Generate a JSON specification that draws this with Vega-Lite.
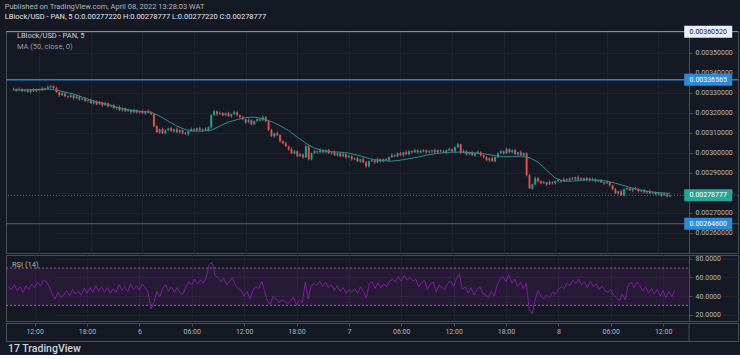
{
  "$schema": "https://vega.github.io/schema/vega-lite/v6.json",
  "background": "#151924",
  "padding": {"left": 4, "top": 3, "right": 0, "bottom": 0},
  "spacing": 0,
  "title": {
    "text": "Published on TradingView.com, April 08, 2022 13:28:03 WAT",
    "subtitle": "LBlock/USD - PAN, 5  O:0.00277220 H:0.00278777 L:0.00277220 C:0.00278777",
    "anchor": "start",
    "font": "Roboto",
    "subtitleFont": "Roboto",
    "fontSize": 7.5,
    "subtitleFontSize": 7.5,
    "fontWeight": "normal",
    "subtitleFontWeight": "normal",
    "color": "#b2b5be",
    "subtitleColor": "#e0e3eb",
    "subtitlePadding": 2,
    "offset": 5
  },
  "resolve": {"scale": {"x": "independent", "y": "independent"}},
  "datasets": {
    "levels": [
      {"p": 0.0036052, "kind": "w"},
      {"p": 0.00336565, "kind": "b"},
      {"p": 0.00278777, "kind": "g"},
      {"p": 0.002646, "kind": "b"}
    ],
    "ma": [
      {"t":540,"m":0.0033135},{"t":600,"m":0.0033135},{"t":660,"m":0.003316},{"t":720,"m":0.003316},
      {"t":780,"m":0.0033185},{"t":840,"m":0.0033135},{"t":900,"m":0.0033035},{"t":960,"m":0.0032935},
      {"t":1020,"m":0.0032785},{"t":1080,"m":0.0032635},{"t":1140,"m":0.003251},{"t":1200,"m":0.003241},
      {"t":1260,"m":0.0032285},{"t":1320,"m":0.0032185},{"t":1380,"m":0.003211},{"t":1440,"m":0.003206},
      {"t":1500,"m":0.0032035},{"t":1560,"m":0.0031835},{"t":1620,"m":0.0031585},{"t":1680,"m":0.0031335},
      {"t":1740,"m":0.003116},{"t":1800,"m":0.0031085},{"t":1860,"m":0.0031085},{"t":1920,"m":0.0031135},
      {"t":1980,"m":0.0031335},{"t":2040,"m":0.0031535},{"t":2100,"m":0.003166},{"t":2160,"m":0.003176},
      {"t":2220,"m":0.0031785},{"t":2280,"m":0.003171},{"t":2340,"m":0.003156},{"t":2400,"m":0.003136},
      {"t":2460,"m":0.003111},{"t":2520,"m":0.0030785},{"t":2580,"m":0.0030485},{"t":2640,"m":0.0030235},
      {"t":2700,"m":0.003011},{"t":2760,"m":0.003006},{"t":2820,"m":0.0030035},{"t":2880,"m":0.0029985},
      {"t":2940,"m":0.0029885},{"t":3000,"m":0.002976},{"t":3060,"m":0.002966},{"t":3120,"m":0.002961},
      {"t":3180,"m":0.0029585},{"t":3240,"m":0.0029635},{"t":3300,"m":0.002971},{"t":3360,"m":0.0029785},
      {"t":3420,"m":0.0029885},{"t":3480,"m":0.002996},{"t":3540,"m":0.003001},{"t":3600,"m":0.0030035},
      {"t":3660,"m":0.0030035},{"t":3720,"m":0.003001},{"t":3780,"m":0.0029985},{"t":3840,"m":0.0029935},
      {"t":3900,"m":0.002986},{"t":3960,"m":0.002981},{"t":4020,"m":0.002981},{"t":4080,"m":0.0029835},
      {"t":4140,"m":0.002976},{"t":4200,"m":0.0029535},{"t":4260,"m":0.0029135},{"t":4320,"m":0.0028735},
      {"t":4380,"m":0.0028585},{"t":4440,"m":0.0028585},{"t":4500,"m":0.0028635},{"t":4560,"m":0.002866},
      {"t":4620,"m":0.0028635},{"t":4680,"m":0.0028585},{"t":4740,"m":0.0028485},{"t":4800,"m":0.002836},
      {"t":4860,"m":0.0028235},{"t":4920,"m":0.0028135},{"t":4980,"m":0.002806},{"t":5040,"m":0.002801},
      {"t":5100,"m":0.0027985},{"t":5120,"m":0.0027975}
    ],
    "candles": [
      {"t":540,"o":0.003315,"h":0.0033255,"l":0.003312,"c":0.0033185,"r":50},
      {"t":560,"o":0.0033185,"h":0.0033215,"l":0.0033055,"c":0.0033135,"r":47},
      {"t":580,"o":0.0033135,"h":0.003327,"l":0.0033095,"c":0.003318,"r":52},
      {"t":600,"o":0.003318,"h":0.003323,"l":0.003303,"c":0.003309,"r":46},
      {"t":620,"o":0.003309,"h":0.003317,"l":0.003304,"c":0.003313,"r":50},
      {"t":640,"o":0.003313,"h":0.00332,"l":0.003301,"c":0.003304,"r":44},
      {"t":660,"o":0.003304,"h":0.003317,"l":0.003296,"c":0.003314,"r":51},
      {"t":680,"o":0.003314,"h":0.003323,"l":0.003304,"c":0.003308,"r":47},
      {"t":700,"o":0.003308,"h":0.003322,"l":0.003302,"c":0.003317,"r":53},
      {"t":720,"o":0.003317,"h":0.003321,"l":0.003307,"c":0.003312,"r":49},
      {"t":740,"o":0.003312,"h":0.00333,"l":0.003309,"c":0.003323,"r":55},
      {"t":760,"o":0.003323,"h":0.003326,"l":0.003311,"c":0.003319,"r":51},
      {"t":780,"o":0.003319,"h":0.003337,"l":0.003315,"c":0.003328,"r":57},
      {"t":800,"o":0.003328,"h":0.003338,"l":0.003322,"c":0.003333,"r":55},
      {"t":820,"o":0.003333,"h":0.003337,"l":0.003319,"c":0.003324,"r":50},
      {"t":840,"o":0.003324,"h":0.003331,"l":0.0033,"c":0.003303,"r":42},
      {"t":860,"o":0.003303,"h":0.003306,"l":0.00328,"c":0.003288,"r":37},
      {"t":880,"o":0.003288,"h":0.003306,"l":0.003284,"c":0.003297,"r":44},
      {"t":900,"o":0.003297,"h":0.003302,"l":0.003277,"c":0.003283,"r":39},
      {"t":920,"o":0.003283,"h":0.003287,"l":0.003273,"c":0.003278,"r":41},
      {"t":940,"o":0.003278,"h":0.003294,"l":0.003275,"c":0.003287,"r":46},
      {"t":960,"o":0.003287,"h":0.00329,"l":0.003265,"c":0.003273,"r":40},
      {"t":980,"o":0.003273,"h":0.00329,"l":0.003269,"c":0.003281,"r":47},
      {"t":1000,"o":0.003281,"h":0.003286,"l":0.003261,"c":0.003267,"r":42},
      {"t":1020,"o":0.003267,"h":0.003276,"l":0.003262,"c":0.003272,"r":45},
      {"t":1040,"o":0.003272,"h":0.003279,"l":0.003255,"c":0.003258,"r":41},
      {"t":1060,"o":0.003258,"h":0.003266,"l":0.00325,"c":0.003263,"r":48},
      {"t":1080,"o":0.003263,"h":0.003272,"l":0.003244,"c":0.003248,"r":43},
      {"t":1100,"o":0.003248,"h":0.003262,"l":0.003242,"c":0.003257,"r":49},
      {"t":1120,"o":0.003257,"h":0.003261,"l":0.003238,"c":0.003243,"r":44},
      {"t":1140,"o":0.003243,"h":0.00326,"l":0.00324,"c":0.003253,"r":51},
      {"t":1160,"o":0.003253,"h":0.003256,"l":0.00323,"c":0.003238,"r":45},
      {"t":1180,"o":0.003238,"h":0.003256,"l":0.003234,"c":0.003247,"r":50},
      {"t":1200,"o":0.003247,"h":0.003252,"l":0.003227,"c":0.003233,"r":44},
      {"t":1220,"o":0.003233,"h":0.003242,"l":0.003228,"c":0.003238,"r":49},
      {"t":1240,"o":0.003238,"h":0.003245,"l":0.00322,"c":0.003223,"r":43},
      {"t":1260,"o":0.003223,"h":0.003231,"l":0.003215,"c":0.003228,"r":48},
      {"t":1280,"o":0.003228,"h":0.003237,"l":0.003209,"c":0.003213,"r":44},
      {"t":1300,"o":0.003213,"h":0.003227,"l":0.003207,"c":0.003222,"r":52},
      {"t":1320,"o":0.003222,"h":0.003226,"l":0.003203,"c":0.003208,"r":46},
      {"t":1340,"o":0.003208,"h":0.00322,"l":0.003205,"c":0.003213,"r":50},
      {"t":1360,"o":0.003213,"h":0.003216,"l":0.003195,"c":0.003203,"r":45},
      {"t":1380,"o":0.003203,"h":0.003221,"l":0.003199,"c":0.003212,"r":53},
      {"t":1400,"o":0.003212,"h":0.003217,"l":0.003196,"c":0.003202,"r":47},
      {"t":1420,"o":0.003202,"h":0.003212,"l":0.003197,"c":0.003208,"r":51},
      {"t":1440,"o":0.003208,"h":0.003215,"l":0.003195,"c":0.003198,"r":46},
      {"t":1460,"o":0.003198,"h":0.00321,"l":0.00319,"c":0.003207,"r":53},
      {"t":1480,"o":0.003207,"h":0.003216,"l":0.003198,"c":0.003202,"r":49},
      {"t":1500,"o":0.003202,"h":0.003207,"l":0.003187,"c":0.003193,"r":44},
      {"t":1520,"o":0.003193,"h":0.003197,"l":0.003128,"c":0.003133,"r":26},
      {"t":1540,"o":0.003133,"h":0.00314,"l":0.0031,"c":0.003103,"r":33},
      {"t":1560,"o":0.003103,"h":0.003121,"l":0.003095,"c":0.003118,"r":45},
      {"t":1580,"o":0.003118,"h":0.003127,"l":0.003094,"c":0.003098,"r":39},
      {"t":1600,"o":0.003098,"h":0.003118,"l":0.003092,"c":0.003113,"r":48},
      {"t":1620,"o":0.003113,"h":0.003127,"l":0.003108,"c":0.003123,"r":52},
      {"t":1640,"o":0.003123,"h":0.00313,"l":0.003105,"c":0.003108,"r":45},
      {"t":1660,"o":0.003108,"h":0.003121,"l":0.0031,"c":0.003118,"r":50},
      {"t":1680,"o":0.003118,"h":0.003127,"l":0.003099,"c":0.003103,"r":44},
      {"t":1700,"o":0.003103,"h":0.003118,"l":0.003097,"c":0.003113,"r":49},
      {"t":1720,"o":0.003113,"h":0.003117,"l":0.003093,"c":0.003098,"r":43},
      {"t":1740,"o":0.003098,"h":0.003105,"l":0.00309,"c":0.003093,"r":42},
      {"t":1760,"o":0.003093,"h":0.003111,"l":0.003085,"c":0.003108,"r":50},
      {"t":1780,"o":0.003108,"h":0.003127,"l":0.003104,"c":0.003118,"r":55},
      {"t":1800,"o":0.003118,"h":0.003123,"l":0.003107,"c":0.003113,"r":52},
      {"t":1820,"o":0.003113,"h":0.003127,"l":0.003108,"c":0.003123,"r":58},
      {"t":1840,"o":0.003123,"h":0.00313,"l":0.00311,"c":0.003113,"r":53},
      {"t":1860,"o":0.003113,"h":0.003121,"l":0.003105,"c":0.003118,"r":57},
      {"t":1880,"o":0.003118,"h":0.003127,"l":0.003109,"c":0.003113,"r":54},
      {"t":1900,"o":0.003113,"h":0.003133,"l":0.003107,"c":0.003128,"r":60},
      {"t":1920,"o":0.003128,"h":0.003192,"l":0.003123,"c":0.003188,"r":74},
      {"t":1940,"o":0.003188,"h":0.003215,"l":0.003185,"c":0.003208,"r":76},
      {"t":1960,"o":0.003208,"h":0.003211,"l":0.003185,"c":0.003193,"r":62},
      {"t":1980,"o":0.003193,"h":0.003207,"l":0.003189,"c":0.003198,"r":60},
      {"t":2000,"o":0.003198,"h":0.003203,"l":0.003182,"c":0.003188,"r":55},
      {"t":2020,"o":0.003188,"h":0.003202,"l":0.003183,"c":0.003198,"r":59},
      {"t":2040,"o":0.003198,"h":0.003205,"l":0.00318,"c":0.003183,"r":52},
      {"t":2060,"o":0.003183,"h":0.003196,"l":0.003175,"c":0.003193,"r":56},
      {"t":2080,"o":0.003193,"h":0.003212,"l":0.003189,"c":0.003203,"r":60},
      {"t":2100,"o":0.003203,"h":0.003208,"l":0.003182,"c":0.003188,"r":51},
      {"t":2120,"o":0.003188,"h":0.003192,"l":0.003173,"c":0.003178,"r":48},
      {"t":2140,"o":0.003178,"h":0.003185,"l":0.003165,"c":0.003168,"r":46},
      {"t":2160,"o":0.003168,"h":0.003171,"l":0.003145,"c":0.003153,"r":40},
      {"t":2180,"o":0.003153,"h":0.003172,"l":0.003149,"c":0.003163,"r":45},
      {"t":2200,"o":0.003163,"h":0.003168,"l":0.003137,"c":0.003143,"r":37},
      {"t":2220,"o":0.003143,"h":0.003162,"l":0.003138,"c":0.003158,"r":46},
      {"t":2240,"o":0.003158,"h":0.003175,"l":0.003155,"c":0.003168,"r":50},
      {"t":2260,"o":0.003168,"h":0.003171,"l":0.003155,"c":0.003163,"r":48},
      {"t":2280,"o":0.003163,"h":0.003187,"l":0.003159,"c":0.003178,"r":56},
      {"t":2300,"o":0.003178,"h":0.003183,"l":0.003152,"c":0.003158,"r":46},
      {"t":2320,"o":0.003158,"h":0.003162,"l":0.003108,"c":0.003113,"r":35},
      {"t":2340,"o":0.003113,"h":0.00312,"l":0.00308,"c":0.003083,"r":31},
      {"t":2360,"o":0.003083,"h":0.003101,"l":0.003075,"c":0.003098,"r":40},
      {"t":2380,"o":0.003098,"h":0.003107,"l":0.003084,"c":0.003088,"r":37},
      {"t":2400,"o":0.003088,"h":0.003093,"l":0.003052,"c":0.003058,"r":33},
      {"t":2420,"o":0.003058,"h":0.003062,"l":0.003043,"c":0.003048,"r":36},
      {"t":2440,"o":0.003048,"h":0.003055,"l":0.00303,"c":0.003033,"r":34},
      {"t":2460,"o":0.003033,"h":0.003036,"l":0.00301,"c":0.003018,"r":32},
      {"t":2480,"o":0.003018,"h":0.003027,"l":0.002994,"c":0.002998,"r":35},
      {"t":2500,"o":0.002998,"h":0.003013,"l":0.002992,"c":0.003008,"r":39},
      {"t":2520,"o":0.003008,"h":0.003012,"l":0.002978,"c":0.002983,"r":30},
      {"t":2540,"o":0.002983,"h":0.003,"l":0.00298,"c":0.002993,"r":36},
      {"t":2560,"o":0.002993,"h":0.002996,"l":0.00297,"c":0.002978,"r":33},
      {"t":2580,"o":0.002978,"h":0.003042,"l":0.002974,"c":0.003033,"r":55},
      {"t":2600,"o":0.003033,"h":0.003038,"l":0.002962,"c":0.002968,"r":37},
      {"t":2620,"o":0.002968,"h":0.003002,"l":0.002963,"c":0.002998,"r":50},
      {"t":2640,"o":0.002998,"h":0.003015,"l":0.002995,"c":0.003008,"r":54},
      {"t":2660,"o":0.003008,"h":0.003011,"l":0.002995,"c":0.003003,"r":51},
      {"t":2680,"o":0.003003,"h":0.003022,"l":0.002999,"c":0.003013,"r":56},
      {"t":2700,"o":0.003013,"h":0.003018,"l":0.002997,"c":0.003003,"r":50},
      {"t":2720,"o":0.003003,"h":0.003017,"l":0.002998,"c":0.003013,"r":55},
      {"t":2740,"o":0.003013,"h":0.00302,"l":0.002995,"c":0.002998,"r":49},
      {"t":2760,"o":0.002998,"h":0.003006,"l":0.00299,"c":0.003003,"r":52},
      {"t":2780,"o":0.003003,"h":0.003012,"l":0.002984,"c":0.002988,"r":46},
      {"t":2800,"o":0.002988,"h":0.003003,"l":0.002982,"c":0.002998,"r":51},
      {"t":2820,"o":0.002998,"h":0.003002,"l":0.002978,"c":0.002983,"r":45},
      {"t":2840,"o":0.002983,"h":0.003,"l":0.00298,"c":0.002993,"r":49},
      {"t":2860,"o":0.002993,"h":0.002996,"l":0.00297,"c":0.002978,"r":43},
      {"t":2880,"o":0.002978,"h":0.002992,"l":0.002974,"c":0.002983,"r":47},
      {"t":2900,"o":0.002983,"h":0.002988,"l":0.002962,"c":0.002968,"r":44},
      {"t":2920,"o":0.002968,"h":0.002977,"l":0.002963,"c":0.002973,"r":48},
      {"t":2940,"o":0.002973,"h":0.00298,"l":0.002955,"c":0.002958,"r":43},
      {"t":2960,"o":0.002958,"h":0.002971,"l":0.00295,"c":0.002968,"r":50},
      {"t":2980,"o":0.002968,"h":0.002977,"l":0.002949,"c":0.002953,"r":45},
      {"t":3000,"o":0.002953,"h":0.002958,"l":0.002927,"c":0.002933,"r":38},
      {"t":3020,"o":0.002933,"h":0.002962,"l":0.002928,"c":0.002958,"r":53},
      {"t":3040,"o":0.002958,"h":0.00297,"l":0.002955,"c":0.002963,"r":55},
      {"t":3060,"o":0.002963,"h":0.002966,"l":0.002945,"c":0.002953,"r":48},
      {"t":3080,"o":0.002953,"h":0.002977,"l":0.002949,"c":0.002968,"r":54},
      {"t":3100,"o":0.002968,"h":0.002973,"l":0.002952,"c":0.002958,"r":49},
      {"t":3120,"o":0.002958,"h":0.002972,"l":0.002953,"c":0.002968,"r":53},
      {"t":3140,"o":0.002968,"h":0.002975,"l":0.00296,"c":0.002963,"r":50},
      {"t":3160,"o":0.002963,"h":0.002981,"l":0.002955,"c":0.002978,"r":56},
      {"t":3180,"o":0.002978,"h":0.002997,"l":0.002974,"c":0.002988,"r":58},
      {"t":3200,"o":0.002988,"h":0.002993,"l":0.002977,"c":0.002983,"r":55},
      {"t":3220,"o":0.002983,"h":0.003002,"l":0.002978,"c":0.002998,"r":61},
      {"t":3240,"o":0.002998,"h":0.003005,"l":0.002985,"c":0.002988,"r":56},
      {"t":3260,"o":0.002988,"h":0.003006,"l":0.00298,"c":0.003003,"r":62},
      {"t":3280,"o":0.003003,"h":0.003012,"l":0.002989,"c":0.002993,"r":57},
      {"t":3300,"o":0.002993,"h":0.003013,"l":0.002987,"c":0.003008,"r":60},
      {"t":3320,"o":0.003008,"h":0.003012,"l":0.002998,"c":0.003003,"r":56},
      {"t":3340,"o":0.003003,"h":0.00302,"l":0.003,"c":0.003013,"r":58},
      {"t":3360,"o":0.003013,"h":0.003016,"l":0.002995,"c":0.003003,"r":50},
      {"t":3380,"o":0.003003,"h":0.003017,"l":0.002999,"c":0.003008,"r":54},
      {"t":3400,"o":0.003008,"h":0.003018,"l":0.003002,"c":0.003013,"r":57},
      {"t":3420,"o":0.003013,"h":0.003017,"l":0.002998,"c":0.003003,"r":47},
      {"t":3440,"o":0.003003,"h":0.003015,"l":0.003,"c":0.003008,"r":53},
      {"t":3460,"o":0.003008,"h":0.003016,"l":0.003,"c":0.003013,"r":55},
      {"t":3480,"o":0.003013,"h":0.003022,"l":0.002999,"c":0.003003,"r":44},
      {"t":3500,"o":0.003003,"h":0.003018,"l":0.002997,"c":0.003013,"r":52},
      {"t":3520,"o":0.003013,"h":0.003017,"l":0.003003,"c":0.003008,"r":49},
      {"t":3540,"o":0.003008,"h":0.003015,"l":0.003,"c":0.003003,"r":47},
      {"t":3560,"o":0.003003,"h":0.003016,"l":0.002995,"c":0.003013,"r":54},
      {"t":3580,"o":0.003013,"h":0.003027,"l":0.003009,"c":0.003018,"r":56},
      {"t":3600,"o":0.003018,"h":0.003023,"l":0.003002,"c":0.003008,"r":50},
      {"t":3620,"o":0.003008,"h":0.003032,"l":0.003003,"c":0.003028,"r":59},
      {"t":3640,"o":0.003028,"h":0.00305,"l":0.003025,"c":0.003043,"r":64},
      {"t":3660,"o":0.003043,"h":0.003046,"l":0.002995,"c":0.003003,"r":47},
      {"t":3680,"o":0.003003,"h":0.003017,"l":0.002999,"c":0.003008,"r":50},
      {"t":3700,"o":0.003008,"h":0.003013,"l":0.002987,"c":0.002993,"r":43},
      {"t":3720,"o":0.002993,"h":0.003007,"l":0.002988,"c":0.003003,"r":49},
      {"t":3740,"o":0.003003,"h":0.00301,"l":0.002985,"c":0.002988,"r":41},
      {"t":3760,"o":0.002988,"h":0.003001,"l":0.00298,"c":0.002998,"r":47},
      {"t":3780,"o":0.002998,"h":0.003012,"l":0.002994,"c":0.003003,"r":50},
      {"t":3800,"o":0.003003,"h":0.003008,"l":0.002982,"c":0.002988,"r":43},
      {"t":3820,"o":0.002988,"h":0.002992,"l":0.002973,"c":0.002978,"r":41},
      {"t":3840,"o":0.002978,"h":0.002985,"l":0.00296,"c":0.002963,"r":38},
      {"t":3860,"o":0.002963,"h":0.002976,"l":0.002955,"c":0.002973,"r":45},
      {"t":3880,"o":0.002973,"h":0.002982,"l":0.002954,"c":0.002958,"r":40},
      {"t":3900,"o":0.002958,"h":0.002983,"l":0.002952,"c":0.002978,"r":52},
      {"t":3920,"o":0.002978,"h":0.003002,"l":0.002973,"c":0.002998,"r":58},
      {"t":3940,"o":0.002998,"h":0.003015,"l":0.002995,"c":0.003008,"r":61},
      {"t":3960,"o":0.003008,"h":0.003011,"l":0.00299,"c":0.002998,"r":55},
      {"t":3980,"o":0.002998,"h":0.003027,"l":0.002994,"c":0.003018,"r":63},
      {"t":4000,"o":0.003018,"h":0.003023,"l":0.002997,"c":0.003003,"r":54},
      {"t":4020,"o":0.003003,"h":0.003017,"l":0.002998,"c":0.003013,"r":58},
      {"t":4040,"o":0.003013,"h":0.00302,"l":0.00299,"c":0.002993,"r":50},
      {"t":4060,"o":0.002993,"h":0.003006,"l":0.002985,"c":0.003003,"r":55},
      {"t":4080,"o":0.003003,"h":0.003012,"l":0.002984,"c":0.002988,"r":48},
      {"t":4100,"o":0.002988,"h":0.003003,"l":0.002982,"c":0.002998,"r":54},
      {"t":4120,"o":0.002998,"h":0.003002,"l":0.002883,"c":0.002888,"r":25},
      {"t":4140,"o":0.002888,"h":0.002895,"l":0.00282,"c":0.002823,"r":21},
      {"t":4160,"o":0.002823,"h":0.002846,"l":0.002815,"c":0.002843,"r":36},
      {"t":4180,"o":0.002843,"h":0.002882,"l":0.002839,"c":0.002873,"r":46},
      {"t":4200,"o":0.002873,"h":0.002878,"l":0.002852,"c":0.002858,"r":40},
      {"t":4220,"o":0.002858,"h":0.002862,"l":0.002843,"c":0.002848,"r":37},
      {"t":4240,"o":0.002848,"h":0.00286,"l":0.002845,"c":0.002853,"r":41},
      {"t":4260,"o":0.002853,"h":0.002856,"l":0.002835,"c":0.002843,"r":38},
      {"t":4280,"o":0.002843,"h":0.002862,"l":0.002839,"c":0.002853,"r":44},
      {"t":4300,"o":0.002853,"h":0.002858,"l":0.002842,"c":0.002848,"r":42},
      {"t":4320,"o":0.002848,"h":0.002862,"l":0.002843,"c":0.002858,"r":47},
      {"t":4340,"o":0.002858,"h":0.00287,"l":0.002855,"c":0.002863,"r":50},
      {"t":4360,"o":0.002863,"h":0.002866,"l":0.00285,"c":0.002858,"r":48},
      {"t":4380,"o":0.002858,"h":0.002877,"l":0.002854,"c":0.002868,"r":54},
      {"t":4400,"o":0.002868,"h":0.002873,"l":0.002857,"c":0.002863,"r":51},
      {"t":4420,"o":0.002863,"h":0.002877,"l":0.002858,"c":0.002873,"r":57},
      {"t":4440,"o":0.002873,"h":0.00288,"l":0.002865,"c":0.002868,"r":53},
      {"t":4460,"o":0.002868,"h":0.002881,"l":0.00286,"c":0.002878,"r":58},
      {"t":4480,"o":0.002878,"h":0.002887,"l":0.002864,"c":0.002868,"r":52},
      {"t":4500,"o":0.002868,"h":0.002878,"l":0.002862,"c":0.002873,"r":55},
      {"t":4520,"o":0.002873,"h":0.002877,"l":0.002858,"c":0.002863,"r":49},
      {"t":4540,"o":0.002863,"h":0.00288,"l":0.00286,"c":0.002873,"r":56},
      {"t":4560,"o":0.002873,"h":0.002876,"l":0.002855,"c":0.002863,"r":50},
      {"t":4580,"o":0.002863,"h":0.002877,"l":0.002859,"c":0.002868,"r":53},
      {"t":4600,"o":0.002868,"h":0.002873,"l":0.002852,"c":0.002858,"r":47},
      {"t":4620,"o":0.002858,"h":0.002867,"l":0.002853,"c":0.002863,"r":51},
      {"t":4640,"o":0.002863,"h":0.00287,"l":0.00285,"c":0.002853,"r":46},
      {"t":4660,"o":0.002853,"h":0.002856,"l":0.00284,"c":0.002848,"r":44},
      {"t":4680,"o":0.002848,"h":0.002862,"l":0.002844,"c":0.002853,"r":47},
      {"t":4700,"o":0.002853,"h":0.002858,"l":0.002832,"c":0.002838,"r":41},
      {"t":4720,"o":0.002838,"h":0.002842,"l":0.002813,"c":0.002818,"r":38},
      {"t":4740,"o":0.002818,"h":0.002825,"l":0.002795,"c":0.002798,"r":35},
      {"t":4760,"o":0.002798,"h":0.002811,"l":0.00279,"c":0.002808,"r":42},
      {"t":4780,"o":0.002808,"h":0.002817,"l":0.002784,"c":0.002788,"r":36},
      {"t":4800,"o":0.002788,"h":0.002823,"l":0.002782,"c":0.002818,"r":52},
      {"t":4820,"o":0.002818,"h":0.002827,"l":0.002813,"c":0.002823,"r":55},
      {"t":4840,"o":0.002823,"h":0.00283,"l":0.00281,"c":0.002813,"r":49},
      {"t":4860,"o":0.002813,"h":0.002826,"l":0.002805,"c":0.002823,"r":55},
      {"t":4880,"o":0.002823,"h":0.002832,"l":0.002814,"c":0.002818,"r":51},
      {"t":4900,"o":0.002818,"h":0.002823,"l":0.002802,"c":0.002808,"r":45},
      {"t":4920,"o":0.002808,"h":0.002817,"l":0.002803,"c":0.002813,"r":50},
      {"t":4940,"o":0.002813,"h":0.00282,"l":0.0028,"c":0.002803,"r":43},
      {"t":4960,"o":0.002803,"h":0.002811,"l":0.002795,"c":0.002808,"r":48},
      {"t":4980,"o":0.002808,"h":0.002817,"l":0.002794,"c":0.002798,"r":42},
      {"t":5000,"o":0.002798,"h":0.002808,"l":0.002792,"c":0.002803,"r":47},
      {"t":5020,"o":0.002803,"h":0.002807,"l":0.002788,"c":0.002793,"r":40},
      {"t":5040,"o":0.002793,"h":0.002805,"l":0.00279,"c":0.002798,"r":46},
      {"t":5060,"o":0.002798,"h":0.002801,"l":0.00278,"c":0.002788,"r":38},
      {"t":5080,"o":0.002788,"h":0.002802,"l":0.002784,"c":0.002793,"r":45},
      {"t":5100,"o":0.002793,"h":0.002798,"l":0.002777,"c":0.002783,"r":39},
      {"t":5120,"o":0.002783,"h":0.00279177,"l":0.002778,"c":0.00278777,"r":46}
    ]
  },
  "vconcat": [
    {
      "width": 732,
      "height": 222,
      "layer": [
        {
          "data": {"name": "candles"},
          "mark": {"type": "rule", "strokeWidth": 1, "opacity": 0.85},
          "encoding": {
            "x": {
              "field": "t", "type": "quantitative",
              "scale": {"domain": [523, 5218], "range": [0, 683], "nice": false, "zero": false},
              "axis": {"labels": false, "ticks": false, "domain": false, "grid": true, "tickCount": 100, "values": [720, 1080, 1440, 1800, 2160, 2520, 2880, 3240, 3600, 3960, 4320, 4680, 5040], "title": null}
            },
            "y": {
              "field": "l", "type": "quantitative",
              "scale": {"domain": [0.0025, 0.0036085], "nice": false, "zero": false},
              "axis": {"orient": "right", "offset": -49, "tickCount": 100, "values": [0.0026, 0.0027, 0.0028, 0.0029, 0.003, 0.0031, 0.0032, 0.0033, 0.0034, 0.0035], "format": ".8f", "grid": true, "tickSize": 3, "labelPadding": 3, "domain": true, "labelOverlap": false, "title": null}
            },
            "y2": {"field": "h"},
            "color": {"condition": {"test": "datum.c >= datum.o", "value": "#26a69a"}, "value": "#ef5350"}
          }
        },
        {
          "data": {"name": "candles"},
          "mark": {"type": "bar", "width": 2, "opacity": 0.85},
          "encoding": {
            "x": {"field": "t", "type": "quantitative"},
            "y": {"field": "o", "type": "quantitative"},
            "y2": {"field": "c"},
            "color": {"condition": {"test": "datum.c >= datum.o", "value": "#26a69a"}, "value": "#ef5350"}
          }
        },
        {
          "data": {"name": "ma"},
          "mark": {"type": "line", "color": "#2e8f8c", "strokeWidth": 1},
          "encoding": {
            "x": {"field": "t", "type": "quantitative"},
            "y": {"field": "m", "type": "quantitative"}
          }
        },
        {
          "data": {"values": [{}]},
          "mark": {"type": "rule", "color": "#9598a1", "strokeWidth": 1},
          "encoding": {"y": {"datum": 0.0036052, "type": "quantitative"}}
        },
        {
          "data": {"values": [{}]},
          "mark": {"type": "rule", "color": "#2a7fd4", "strokeWidth": 1.5},
          "encoding": {"y": {"datum": 0.00336565, "type": "quantitative"}}
        },
        {
          "data": {"values": [{}]},
          "mark": {"type": "rule", "color": "#5d6170", "strokeWidth": 1},
          "encoding": {"y": {"datum": 0.002646, "type": "quantitative"}}
        },
        {
          "data": {"values": [{}]},
          "mark": {"type": "rule", "color": "#26a69a", "strokeWidth": 1, "strokeDash": [1, 2], "opacity": 0.7},
          "encoding": {"y": {"datum": 0.00278777, "type": "quantitative"}}
        },
        {
          "data": {"name": "levels"},
          "mark": {"type": "tick", "orient": "horizontal", "size": 48, "thickness": 12, "opacity": 1},
          "encoding": {
            "x": {"datum": 5387, "type": "quantitative"},
            "y": {"field": "p", "type": "quantitative"},
            "color": {"field": "kind", "type": "nominal", "scale": {"domain": ["w", "b", "g"], "range": ["#eceff5", "#2a8cd8", "#26a69a"]}, "legend": null}
          }
        },
        {
          "data": {"name": "levels"},
          "mark": {"type": "text", "font": "Roboto", "fontSize": 7, "align": "center", "baseline": "middle"},
          "encoding": {
            "x": {"datum": 5387, "type": "quantitative"},
            "y": {"field": "p", "type": "quantitative"},
            "text": {"field": "p", "format": ".8f"},
            "color": {"condition": {"test": "datum.kind == 'w'", "value": "#131722"}, "value": "#ffffff"}
          }
        },
        {
          "data": {"values": [{}]},
          "mark": {"type": "text", "font": "Roboto", "fontSize": 7.5, "align": "left", "baseline": "middle", "color": "#d1d4dc"},
          "encoding": {
            "x": {"datum": 564, "type": "quantitative"},
            "y": {"datum": 0.0035835, "type": "quantitative"},
            "text": {"value": "LBlock/USD - PAN, 5"}
          }
        },
        {
          "data": {"values": [{}]},
          "mark": {"type": "text", "font": "Roboto", "fontSize": 7.5, "align": "left", "baseline": "middle", "color": "#9598a1"},
          "encoding": {
            "x": {"datum": 564, "type": "quantitative"},
            "y": {"datum": 0.0035285, "type": "quantitative"},
            "text": {"value": "MA (50, close, 0)"}
          }
        }
      ]
    },
    {
      "width": 732,
      "height": 66,
      "layer": [
        {
          "data": {"values": [{}]},
          "mark": {"type": "rect", "color": "#9c27b0", "opacity": 0.13},
          "encoding": {
            "x": {
              "datum": 523, "type": "quantitative",
              "scale": {"domain": [523, 5218], "range": [0, 683], "nice": false, "zero": false},
              "axis": {"labels": false, "ticks": false, "domain": false, "grid": true, "tickCount": 100, "values": [720, 1080, 1440, 1800, 2160, 2520, 2880, 3240, 3600, 3960, 4320, 4680, 5040], "title": null}
            },
            "x2": {"datum": 5218},
            "y": {
              "datum": 70, "type": "quantitative",
              "scale": {"domain": [13.25, 83.96], "nice": false, "zero": false},
              "axis": {"orient": "right", "offset": -49, "tickCount": 100, "values": [20, 40, 60, 80], "format": ".4f", "grid": true, "tickSize": 3, "labelPadding": 3, "domain": true, "labelOverlap": false, "title": null}
            },
            "y2": {"datum": 30}
          }
        },
        {
          "data": {"values": [{}]},
          "mark": {"type": "rule", "color": "#787b86", "strokeDash": [2, 2], "strokeWidth": 1},
          "encoding": {
            "x": {"datum": 523, "type": "quantitative"},
            "x2": {"datum": 5218},
            "y": {"datum": 70, "type": "quantitative"}
          }
        },
        {
          "data": {"values": [{}]},
          "mark": {"type": "rule", "color": "#787b86", "strokeDash": [2, 2], "strokeWidth": 1},
          "encoding": {
            "x": {"datum": 523, "type": "quantitative"},
            "x2": {"datum": 5218},
            "y": {"datum": 30, "type": "quantitative"}
          }
        },
        {
          "data": {"name": "candles"},
          "mark": {"type": "line", "color": "#7e1f9a", "strokeWidth": 1},
          "encoding": {
            "x": {"field": "t", "type": "quantitative"},
            "y": {"field": "r", "type": "quantitative"}
          }
        },
        {
          "data": {"values": [{}]},
          "mark": {"type": "text", "font": "Roboto", "fontSize": 7.5, "align": "left", "baseline": "middle", "color": "#b2b5be"},
          "encoding": {
            "x": {"datum": 564, "type": "quantitative"},
            "y": {"datum": 73.25, "type": "quantitative"},
            "text": {"value": "RSI (14)"}
          }
        }
      ]
    },
    {
      "width": 732,
      "height": 18,
      "title": {"text": "17 TradingView", "orient": "bottom", "anchor": "start", "font": "Roboto", "fontSize": 10.5, "fontWeight": 500, "color": "#d1d4dc", "offset": 2, "dx": 2},
      "layer": [
        {
          "data": {"values": [{}]},
          "mark": {"type": "rule", "color": "#4a4d58", "strokeWidth": 1},
          "encoding": {
            "x": {
              "datum": 5218, "type": "quantitative",
              "scale": {"domain": [523, 5218], "range": [0, 683], "nice": false, "zero": false},
              "axis": {"orient": "bottom", "offset": -18, "tickCount": 100, "values": [720, 1080, 1440, 1800, 2160, 2520, 2880, 3240, 3600, 3960, 4320, 4680, 5040], "labelExpr": "datum.value % 1440 == 0 ? '' + (5 + datum.value / 1440) : (datum.value % 1440 < 600 ? '0' : '') + floor((datum.value % 1440) / 60) + ':00'", "grid": false, "domain": false, "tickSize": 3, "labelPadding": 1, "title": null}
            }
          }
        }
      ]
    }
  ],
  "config": {
    "view": {"stroke": "#4a4d58", "strokeWidth": 1},
    "font": "Roboto",
    "axis": {"labelFont": "Roboto", "labelColor": "#b2b5be", "labelFontSize": 7, "gridColor": "#1f2330", "gridWidth": 1, "tickColor": "#4a4d58", "domainColor": "#4a4d58", "labelOverlap": false, "title": null}
  }
}
